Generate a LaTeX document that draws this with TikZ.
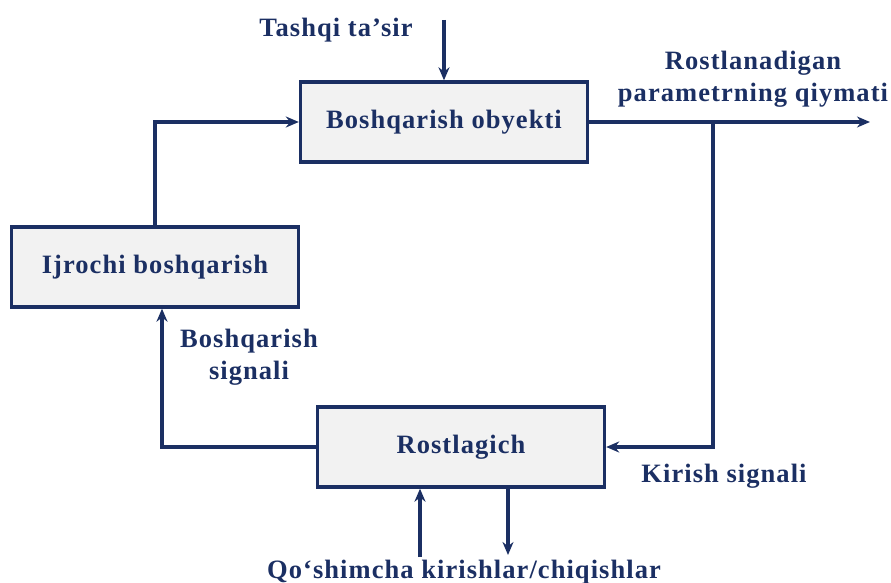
\documentclass[tikz,border=0pt]{standalone}
\usepackage{fontspec}
\setmainfont{Liberation Serif}[LetterSpace=4]
\usepackage{xcolor}
\usetikzlibrary{arrows.meta,positioning,calc}
\definecolor{navy}{HTML}{1B2F63}
\definecolor{boxgray}{HTML}{F2F2F2}
\tikzset{>=Stealth}

\begin{document}
\begin{tikzpicture}[
    x=1pt, y=-1pt,
    font=\fontsize{26.5}{32}\selectfont\bfseries,
    every node/.style={text=navy},
    block/.style={rectangle, draw=navy, fill=boxgray, line width=3.4pt,
        minimum width=287pt, minimum height=80pt, align=center},
    lbl/.style={align=center, inner sep=0pt},
    arrow/.style={->, >={Stealth[length=13pt,width=11pt]}, draw=navy, line width=3.4pt}
]
    \useasboundingbox (0,0) rectangle (891,583);

    \node[block] (obj) at (444,122) {Boshqarish obyekti};
    \node[block] (ijro) at (155,267) {Ijrochi boshqarish};
    \node[block] (rost) at (461,447) {Rostlagich};

    \node[lbl, anchor=base] (tashqi) at (336,37) {Tashqi ta’sir};
    \node[lbl] (param) at (753,79) {Rostlanadigan\\parametrning qiymati};
    \node[lbl] (signal) at (249,357) {Boshqarish\\signali};
    \node[lbl, anchor=base] (kirish) at (724,482) {Kirish signali};
    \node[lbl, anchor=base] (qosh) at (464,578) {Qo‘shimcha kirishlar/chiqishlar};

    \coordinate (tin) at (444,20);
    \coordinate (out) at (870,122);
    \coordinate (tap) at (713,122);
    \coordinate (addin) at (420,557);
    \coordinate (addout) at (508,555);

    \draw[arrow] (tin) -- (obj);
    \draw[arrow] (ijro.north) |- (obj.west);
    \draw[arrow] (obj.east) -- (out);
    \draw[arrow] (tap) |- (rost.east);
    \draw[arrow] (rost.west) -| ([xshift=7pt]ijro.south);
    \draw[arrow] (addin) -- (addin |- rost.south);
    \draw[arrow] (addout |- rost.south) -- (addout);
\end{tikzpicture}
\end{document}
